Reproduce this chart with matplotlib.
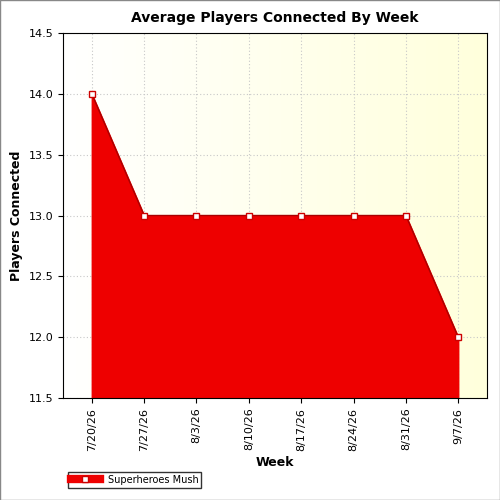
import numpy as np
import matplotlib.pyplot as plt
from matplotlib.lines import Line2D

weeks = ["7/20/26", "7/27/26", "8/3/26", "8/10/26", "8/17/26", "8/24/26", "8/31/26", "9/7/26"]
players = [14.0, 13.0, 13.0, 13.0, 13.0, 13.0, 13.0, 12.0]

fig = plt.figure(figsize=(5, 5), dpi=100)
fig.patch.set_facecolor("white")
ax = fig.add_axes([0.126, 0.204, 0.848, 0.73])
x = np.arange(len(weeks))
ax.set_xlim(-0.55, len(weeks) - 0.45)
ax.set_ylim(11.5, 14.5)

# light yellow gradient background
grad = np.linspace(0, 1, 256).reshape(1, -1)
ax.imshow(grad, cmap=plt.matplotlib.colors.LinearSegmentedColormap.from_list("bg", ["#ffffff", "#ffffdc"]),
          extent=[-0.55, len(weeks) - 0.45, 11.5, 14.5], aspect="auto", zorder=0)

ax.grid(True, color="#c8c8c8", linestyle=(0, (1, 2)), linewidth=0.8, zorder=1)
ax.fill_between(x, players, 11.5, color="#ee0000", zorder=2)
ax.plot(x, players, color="#aa0000", linewidth=1, marker="s", markersize=5,
        markerfacecolor="white", markeredgecolor="#cc0000", zorder=3)

ax.set_xticks(x)
ax.set_xticklabels(weeks, rotation=90, fontsize=8)
ax.set_yticks(np.arange(11.5, 14.51, 0.5))
ax.set_yticklabels([f"{v:.1f}" for v in np.arange(11.5, 14.51, 0.5)], fontsize=8)
ax.set_xlabel("Week", fontsize=9, fontweight="bold")
ax.set_ylabel("Players Connected", fontsize=9, fontweight="bold")
ax.set_title("Average Players Connected By Week", fontsize=10, fontweight="bold", pad=8)

handle = Line2D([], [], color="#ee0000", linewidth=6, marker="s", markersize=5,
                markerfacecolor="white", markeredgecolor="#cc0000")
fig.legend([handle], ["Superheroes Mush"], loc="lower left", bbox_to_anchor=(0.126, 0.015),
           fontsize=7, frameon=True, fancybox=False, edgecolor="black",
           handlelength=3, borderpad=0.3)

for s in ["left", "right", "top", "bottom"]:
    fig.add_artist(plt.Rectangle((0, 0), 1, 1, transform=fig.transFigure, fill=False,
                                 edgecolor="#888888", linewidth=1))
    break

fig.savefig("out.png", dpi=100)
